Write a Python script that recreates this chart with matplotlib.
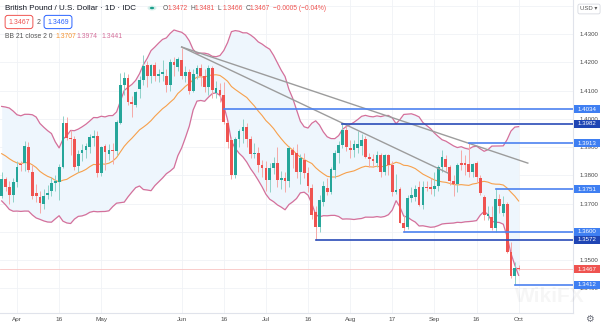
import numpy as np
import pandas as pd
import matplotlib.pyplot as plt
import matplotlib.transforms as mtransforms
from matplotlib.patches import Rectangle, Circle

plt.rcParams['font.family'] = ['Liberation Sans', 'DejaVu Sans']

# closes Feb 26 - Mar 25, only used to warm up the 21-day bands
hist_close = [1.3925, 1.3940, 1.3955, 1.3960, 1.3890, 1.3835, 1.3820, 1.3885, 1.3925, 1.3995,
              1.3925, 1.3905, 1.3885, 1.3965, 1.3935, 1.3865, 1.3870, 1.3750, 1.3675, 1.3715]

# daily bars Mar 26 - Oct 1 2021
opens = [1.3725, 1.3787, 1.3758, 1.3730, 1.3776, 1.3840, 1.3843, 1.3900, 1.3811, 1.3737,
         1.3723, 1.3700, 1.3730, 1.3744, 1.3772, 1.3776, 1.3829, 1.3985, 1.3932, 1.3928,
         1.3833, 1.3880, 1.3890, 1.3900, 1.3932, 1.3939, 1.3808, 1.3903, 1.3875, 1.3890,
         1.3886, 1.3985, 1.4120, 1.4144, 1.4059, 1.4049, 1.4105, 1.4137, 1.4190, 1.4151,
         1.4190, 1.4152, 1.4160, 1.4151, 1.4120, 1.4201, 1.4182, 1.4208, 1.4151, 1.4165,
         1.4100, 1.4160, 1.4180, 1.4150, 1.4112, 1.4178, 1.4092, 1.4102, 1.4084, 1.3985,
         1.3925, 1.3801, 1.3930, 1.3955, 1.3970, 1.3928, 1.3875, 1.3880, 1.3836, 1.3826,
         1.3783, 1.3826, 1.3843, 1.3783, 1.3792, 1.3780, 1.3888, 1.3880, 1.3811, 1.3855,
         1.3808, 1.3755, 1.3670, 1.3617, 1.3705, 1.3755, 1.3741, 1.3818, 1.3879, 1.3907,
         1.3960, 1.3896, 1.3890, 1.3895, 1.3905, 1.3928, 1.3865, 1.3858, 1.3845, 1.3870,
         1.3812, 1.3870, 1.3835, 1.3740, 1.3750, 1.3631, 1.3617, 1.3720, 1.3723, 1.3758,
         1.3695, 1.3760, 1.3758, 1.3751, 1.3762, 1.3829, 1.3858, 1.3829, 1.3780, 1.3770,
         1.3842, 1.3842, 1.3840, 1.3812, 1.3843, 1.3790, 1.3723, 1.3655, 1.3652, 1.3613,
         1.3716, 1.3668, 1.3698, 1.3528, 1.3445, 1.3472]
highs = [1.3810, 1.3795, 1.3780, 1.3790, 1.3852, 1.3850, 1.3920, 1.3918, 1.3835, 1.3770,
         1.3745, 1.3750, 1.3765, 1.3795, 1.3800, 1.3840, 1.4009, 1.4006, 1.3960, 1.3940,
         1.3890, 1.3910, 1.3915, 1.3945, 1.3960, 1.3955, 1.3905, 1.3910, 1.3910, 1.3915,
         1.3995, 1.4162, 1.4166, 1.4160, 1.4080, 1.4100, 1.4150, 1.4226, 1.4205, 1.4195,
         1.4200, 1.4175, 1.4208, 1.4175, 1.4210, 1.4218, 1.4220, 1.4250, 1.4185, 1.4175,
         1.4175, 1.4190, 1.4195, 1.4175, 1.4190, 1.4185, 1.4135, 1.4125, 1.4130, 1.3990,
         1.3935, 1.3935, 1.3965, 1.4000, 1.3985, 1.3940, 1.3915, 1.3900, 1.3855, 1.3850,
         1.3845, 1.3865, 1.3900, 1.3815, 1.3810, 1.3905, 1.3900, 1.3910, 1.3875, 1.3880,
         1.3830, 1.3770, 1.3690, 1.3730, 1.3780, 1.3790, 1.3830, 1.3890, 1.3920, 1.3982,
         1.3975, 1.3925, 1.3925, 1.3958, 1.3945, 1.3940, 1.3880, 1.3875, 1.3885, 1.3880,
         1.3875, 1.3875, 1.3850, 1.3805, 1.3760, 1.3660, 1.3730, 1.3760, 1.3765, 1.3780,
         1.3780, 1.3780, 1.3790, 1.3810, 1.3835, 1.3890, 1.3870, 1.3835, 1.3800, 1.3845,
         1.3890, 1.3870, 1.3913, 1.3845, 1.3850, 1.3800, 1.3730, 1.3690, 1.3690, 1.3751,
         1.3735, 1.3725, 1.3705, 1.3565, 1.3494, 1.3481]
lows = [1.3720, 1.3745, 1.3700, 1.3705, 1.3760, 1.3815, 1.3815, 1.3812, 1.3715, 1.3705,
        1.3668, 1.3680, 1.3715, 1.3725, 1.3745, 1.3712, 1.3825, 1.3925, 1.3870, 1.3820,
        1.3810, 1.3850, 1.3860, 1.3880, 1.3905, 1.3795, 1.3798, 1.3820, 1.3855, 1.3840,
        1.3870, 1.3982, 1.4085, 1.4050, 1.4006, 1.4040, 1.4075, 1.4120, 1.4113, 1.4125,
        1.4135, 1.4130, 1.4135, 1.4095, 1.4100, 1.4150, 1.4170, 1.4140, 1.4130, 1.4087,
        1.4095, 1.4140, 1.4115, 1.4095, 1.4085, 1.4075, 1.4075, 1.4060, 1.3980, 1.3895,
        1.3787, 1.3790, 1.3900, 1.3915, 1.3900, 1.3860, 1.3860, 1.3810, 1.3795, 1.3745,
        1.3740, 1.3805, 1.3760, 1.3750, 1.3741, 1.3760, 1.3825, 1.3790, 1.3770, 1.3790,
        1.3740, 1.3645, 1.3572, 1.3600, 1.3690, 1.3730, 1.3735, 1.3790, 1.3845, 1.3895,
        1.3885, 1.3860, 1.3865, 1.3880, 1.3870, 1.3860, 1.3830, 1.3830, 1.3830, 1.3795,
        1.3800, 1.3800, 1.3728, 1.3735, 1.3630, 1.3600, 1.3610, 1.3705, 1.3710, 1.3690,
        1.3680, 1.3745, 1.3735, 1.3727, 1.3745, 1.3810, 1.3815, 1.3765, 1.3727, 1.3740,
        1.3820, 1.3800, 1.3795, 1.3795, 1.3775, 1.3730, 1.3640, 1.3640, 1.3605, 1.3600,
        1.3665, 1.3655, 1.3525, 1.3438, 1.3412, 1.3466]
closes = [1.3785, 1.3758, 1.3730, 1.3776, 1.3829, 1.3838, 1.3904, 1.3818, 1.3727, 1.3727,
          1.3702, 1.3727, 1.3738, 1.3772, 1.3778, 1.3829, 1.3985, 1.3932, 1.3928, 1.3829,
          1.3875, 1.3888, 1.3903, 1.3935, 1.3940, 1.3808, 1.3900, 1.3882, 1.3890, 1.3886,
          1.3988, 1.4120, 1.4144, 1.4059, 1.4052, 1.4095, 1.4137, 1.4187, 1.4151, 1.4190,
          1.4152, 1.4160, 1.4166, 1.4120, 1.4201, 1.4190, 1.4210, 1.4151, 1.4165, 1.4100,
          1.4160, 1.4180, 1.4150, 1.4112, 1.4178, 1.4102, 1.4109, 1.4084, 1.3989, 1.3918,
          1.3801, 1.3930, 1.3955, 1.3970, 1.3928, 1.3875, 1.3880, 1.3836, 1.3826, 1.3783,
          1.3826, 1.3843, 1.3783, 1.3792, 1.3780, 1.3896, 1.3870, 1.3811, 1.3861, 1.3808,
          1.3762, 1.3659, 1.3617, 1.3712, 1.3762, 1.3742, 1.3822, 1.3879, 1.3907, 1.3960,
          1.3900, 1.3890, 1.3912, 1.3910, 1.3925, 1.3865, 1.3858, 1.3850, 1.3870, 1.3812,
          1.3870, 1.3835, 1.3740, 1.3748, 1.3631, 1.3614, 1.3720, 1.3729, 1.3751, 1.3695,
          1.3758, 1.3755, 1.3752, 1.3762, 1.3829, 1.3865, 1.3829, 1.3780, 1.3770, 1.3835,
          1.3836, 1.3838, 1.3812, 1.3840, 1.3795, 1.3737, 1.3659, 1.3662, 1.3613, 1.3716,
          1.3690, 1.3698, 1.3528, 1.3445, 1.3472, 1.3467]

tick_pos = [4, 15, 26, 47, 58, 69, 80, 91, 102, 113, 124, 135]
tick_lab = ['Apr', '16', 'May', 'Jun', '16', 'Jul', '16', 'Aug', '17', 'Sep', '16', 'Oct']
price_ticks = [1.34, 1.35, 1.37, 1.38, 1.39, 1.40, 1.41, 1.42, 1.43]

levels = [1.4034, 1.3982, 1.3913, 1.3751, 1.3600, 1.3572, 1.3412]
level_from = [58, 89, 122, 129, 105, 82, 134]
level_dark = [False, True, False, False, False, True, False]

# trend lines drawn off the Jun 1 high
trend_x = [[47, 137.4], [47, 116.5]]
trend_y = [[1.4254, 1.3843], [1.4254, 1.3808]]

last_price = 1.3467

W, H = 602, 327
fig = plt.figure(figsize=(W / 100, H / 100), dpi=100)
ax = fig.add_axes([0, 14 / H, 573 / W, 313 / H])

def px(x, y):
    return x / W, 1 - y / H

o, h, l, c = (np.array(v) for v in (opens, highs, lows, closes))
x = np.arange(len(c))

# bollinger bands 21, 2
s = pd.Series(hist_close + closes)
n0 = len(hist_close)
mid = s.rolling(21).mean().values[n0:]
sd = s.rolling(21).std(ddof=0).values[n0:]
upper, lower = mid + 2 * sd, mid - 2 * sd
ax.fill_between(x, lower, upper, color='#eef6fd', lw=0, zorder=1)
ax.plot(x, upper, color='#d4709b', lw=0.9, zorder=2)
ax.plot(x, lower, color='#d4709b', lw=0.9, zorder=2)
ax.plot(x, mid, color='#f7a04b', lw=0.8, zorder=2)

# grid
for yv in np.arange(1.34, 1.441, 0.01):
    ax.axhline(yv, color='#f0f2f6', lw=0.6, zorder=0)
for t in tick_pos:
    ax.axvline(t, color='#f0f2f6', lw=0.6, zorder=0)

# candles
up = c >= o
body = np.maximum(np.abs(c - o), 0.00008)
bot = np.minimum(o, c)
ax.vlines(x[up], l[up], h[up], color='#8fd1c9', lw=0.7, zorder=3)
ax.vlines(x[~up], l[~up], h[~up], color='#f6a9a7', lw=0.7, zorder=3)
ax.bar(x[up], body[up], bottom=bot[up], width=0.72, color='#26a69a', lw=0, zorder=4)
ax.bar(x[~up], body[~up], bottom=bot[~up], width=0.72, color='#ef5350', lw=0, zorder=4)

xmin, xmax = -0.44, 149.2
ax.set_xlim(xmin, xmax)
ax.set_ylim(1.33124, 1.44204)

# trend lines and levels
for tx, ty in zip(trend_x, trend_y):
    ax.plot(tx, ty, color='#9c9c9c', lw=1.0, zorder=5)
for lv, st, dk in zip(levels, level_from, level_dark):
    ax.plot([st, xmax], [lv, lv], color='#2a4cb8' if dk else '#4d82f0', lw=1.2, zorder=5)
ax.axhline(last_price, color='#f8c4c3', lw=0.6, zorder=1)

# axes look
for side in ['left', 'top']:
    ax.spines[side].set_visible(False)
for side in ['right', 'bottom']:
    ax.spines[side].set_color('#e0e3eb')
    ax.spines[side].set_linewidth(0.8)
ax.yaxis.tick_right()
ax.set_yticks(price_ticks)
ax.set_yticklabels([f'{v:.4f}' for v in price_ticks])
ax.set_xticks(tick_pos)
ax.set_xticklabels(tick_lab)
ax.tick_params(axis='y', length=0, pad=5, labelsize=4.4, labelcolor='#4c4c4c')
ax.tick_params(axis='x', length=0, pad=3, labelsize=4.6, labelcolor='#4c4c4c')

# price labels on the right scale
tr = mtransforms.blended_transform_factory(fig.transFigure, ax.transData)
half = 4 / 2825
for lv, dk in zip(levels + [last_price], level_dark + [None]):
    fc = '#ef5350' if dk is None else ('#1f45b4' if dk else '#3f7ff2')
    fig.add_artist(Rectangle((574 / W, lv - half), 26 / W, 2 * half, transform=tr,
                             fc=fc, ec='none', zorder=10))
    fig.add_artist(plt.Text(587 / W, lv, f'{lv:.4f}', transform=tr, ha='center', va='center',
                            fontsize=4.4, color='white', zorder=11))

# header
fig.text(*px(5, 9), 'British Pound / U.S. Dollar · 1D · IDC', fontsize=5.8, color='#131722',
         va='center')
fig.add_artist(Circle(px(152, 8), 4.5 / W, transform=fig.transFigure, fc='#d6f0ec', ec='none'))
fig.add_artist(Circle(px(152, 8), 2.2 / W, transform=fig.transFigure, fc='#1b9e8a', ec='none'))
hx = 163
for lab, val in [('O', '1.3472'), ('H', '1.3481'), ('L', '1.3466'), ('C', '1.3467')]:
    fig.text(*px(hx, 9), lab, fontsize=4.8, color='#555555', va='center')
    fig.text(*px(hx + 4.2, 9), val, fontsize=4.8, color='#ef5350', va='center')
    hx += 27.5
fig.text(*px(hx, 9), '\u22120.0005 (\u22120.04%)', fontsize=4.8, color='#ef5350', va='center')

fig.text(*px(19, 22), '1.3467', fontsize=5, color='#ef5350', ha='center', va='center',
         bbox=dict(boxstyle='round,pad=0.45,rounding_size=0.4', fc='white', ec='#ef5350', lw=0.7))
fig.text(*px(39, 22), '2', fontsize=5, color='#555555', ha='center', va='center')
fig.text(*px(58, 22), '1.3469', fontsize=5, color='#2962ff', ha='center', va='center',
         bbox=dict(boxstyle='round,pad=0.45,rounding_size=0.4', fc='white', ec='#2962ff', lw=0.7))

fig.text(*px(5, 36), 'BB 21 close 2 0', fontsize=4.9, color='#555555', va='center')
fig.text(*px(55, 36), '1.3707', fontsize=4.9, color='#f59331', va='center')
fig.text(*px(76, 36), '1.3974', fontsize=4.9, color='#d4709b', va='center')
fig.text(*px(101, 36), '1.3441', fontsize=4.9, color='#d4709b', va='center')

# currency box, gear, watermark
fig.text(*px(589, 9), 'USD \u25be', fontsize=4.3, color='#555555', ha='center', va='center',
         bbox=dict(boxstyle='round,pad=0.4,rounding_size=0.3', fc='white', ec='#d6d9e0', lw=0.6))
fig.text(*px(589, 319), '\u2699', fontsize=7, color='#6a6d78', ha='center', va='center',
         family='DejaVu Sans')
fig.text(*px(515, 296), 'WikiFX', fontsize=15, fontweight='bold', color='#000000', alpha=0.035,
         ha='left', va='center')

fig.savefig('out.png', dpi=100)
